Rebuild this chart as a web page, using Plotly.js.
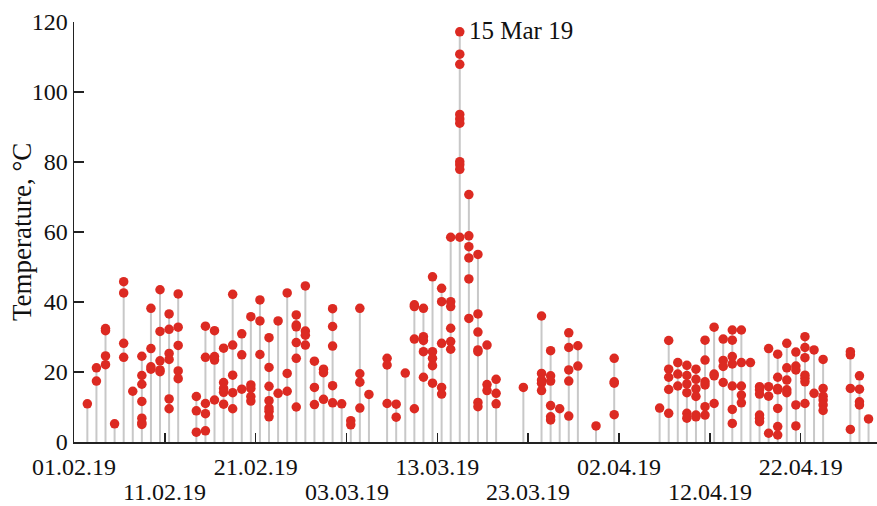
<!DOCTYPE html>
<html>
<head>
<meta charset="utf-8">
<script src="https://cdn.plot.ly/plotly-3.0.1.min.js"></script>
<style>html,body{margin:0;padding:0;background:#fff;}#chart{width:877px;height:506px;}</style>
</head>
<body>
<div id="chart"></div>
<script>
// Measurement days (one stem per day)
const days = [
  '2019-02-02','2019-02-03','2019-02-04','2019-02-05','2019-02-06','2019-02-07','2019-02-08','2019-02-09',
  '2019-02-10','2019-02-11','2019-02-12','2019-02-14','2019-02-15','2019-02-16','2019-02-17','2019-02-18',
  '2019-02-19','2019-02-20','2019-02-21','2019-02-22','2019-02-23','2019-02-24','2019-02-25','2019-02-26',
  '2019-02-27','2019-02-28','2019-03-01','2019-03-02','2019-03-03','2019-03-04','2019-03-05','2019-03-07',
  '2019-03-08','2019-03-09','2019-03-10','2019-03-11','2019-03-12','2019-03-13','2019-03-14','2019-03-15',
  '2019-03-16','2019-03-17','2019-03-18','2019-03-19','2019-03-22','2019-03-24','2019-03-25','2019-03-26',
  '2019-03-27','2019-03-28','2019-03-30','2019-04-01','2019-04-06','2019-04-07','2019-04-08','2019-04-09',
  '2019-04-10','2019-04-11','2019-04-12','2019-04-13','2019-04-14','2019-04-15','2019-04-16','2019-04-17',
  '2019-04-18','2019-04-19','2019-04-20','2019-04-21','2019-04-22','2019-04-23','2019-04-24','2019-04-27',
  '2019-04-28','2019-04-29'
];
// Temperatures (°C) recorded on each day
const temps = [
  [10.9],[21.2,17.4],[32.4,31.8,24.6,22.1],[5.2],[45.8,42.6,28.2,24.2],[14.5],
  [24.5,19.0,16.5,11.6,6.8,5.5,5.0],[38.2,26.7,21.5,20.8],
  [43.5,31.6,23.2,20.6,20.1],[36.6,32.2,25.3,23.6,12.3,9.5],[42.3,32.8,27.6,20.3,18.1],
  [13.0,8.9,2.8],[33.1,24.2,11.0,8.1,3.2],[31.8,24.4,23.4,12.0],[26.8,17.0,15.3,14.2,10.8],
  [42.2,27.7,19.1,14.1,9.5],
  [30.9,24.9,15.1],[35.8,16.3,15.3,13.0,11.7],[40.6,34.6,25.0],[29.8,21.3,15.9,11.8,9.7,8.8,7.2],
  [34.6,13.9],[42.6,19.6,14.5],[36.3,33.4,32.9,28.4,23.9,10.0],[44.6,31.7,30.5,27.7],
  [23.1,15.6,10.7],[20.8,19.8,12.2],[38.1,33.0,27.4,16.1,11.2],[10.9],[6.1,4.9],
  [38.2,19.5,17.1,9.7],[13.6],[23.9,22.0,11.0],
  [10.8,7.1],[19.7],[39.2,38.7,29.4,9.5],[38.2,30.1,29.0,25.8,18.5],[47.2,25.8,23.9,21.8,16.8],
  [43.9,40.1,28.2,15.6,13.7],[58.5,40.1,38.7,32.5,28.7,26.5],
  [117.2,110.8,107.9,93.6,92.3,91.1,80.1,79.2,77.9,58.5],
  [70.7,58.9,55.8,52.6,46.6,35.3],[53.6,36.6,31.4,26.3,25.8,11.3,10.1],[27.7,16.4,14.7],
  [17.9,13.9,10.9],[15.6],[36.0,19.6,17.7,16.8,14.7],[26.1,18.9,17.4,10.4,7.2,6.3],[9.5],
  [31.2,27.0,20.6,17.4,7.4],[27.5,21.7],[4.6],[23.9,17.2,16.8,7.8],[9.7],[29.0,20.8,18.5,15.0,8.2],
  [22.7,19.4,16.0],[21.9,19.0,16.6,14.1,8.2,6.8],
  [20.8,17.9,15.2,13.0,7.7,7.2],[29.1,23.4,17.2,16.3,10.1,7.7],[32.8,19.4,18.9,11.0],
  [29.4,23.3,21.6,17.0],[32.0,29.1,24.4,22.3,16.0,9.3,5.3],[32.0,22.7,16.0,13.4,11.2],[22.7],
  [15.8,14.9,13.7,7.7,6.8,5.8],
  [26.7,15.8,13.1,2.5],[25.1,18.5,15.3,14.9,9.6,4.4,2.0],[28.2,21.2,17.7,14.9,14.1],
  [25.7,21.7,20.6,10.6,4.6],[30.1,27.0,24.1,19.1,18.2,17.2,11.0],[26.3,13.9],
  [23.6,15.3,13.1,12.0,10.6,9.0],[25.8,24.9,15.3,3.6],
  [18.9,15.1,11.5,10.6],[6.6]
];
// X-axis ticks (every 10 days), labels staggered on two rows
const tickDates = ['2019-02-01','2019-02-11','2019-02-21','2019-03-03','2019-03-13','2019-03-23','2019-04-02','2019-04-12','2019-04-22'];
const tickLabels = ['01.02.19','11.02.19','21.02.19','03.03.19','13.03.19','23.03.19','02.04.19','12.04.19','22.04.19'];
const yTicks = [0,20,40,60,80,100,120];
const yTitle = 'Temperature, °C';
const peakLabel = '15 Mar 19';

const TIME = ' 11:15';
const FONT = 'Liberation Serif, Times New Roman, serif';
const TXT = '#111';

const stemX = [], stemY = [], ptX = [], ptY = [];
let peakX = null, peakY = -Infinity;
days.forEach((d, i) => {
  const x = d + TIME;
  const vals = temps[i];
  const mx = Math.max(...vals);
  stemX.push(x, x, null);
  stemY.push(0, mx, null);
  vals.forEach(v => {
    ptX.push(x); ptY.push(v);
    if (v > peakY) { peakY = v; peakX = x; }
  });
});

// first row: labels on the axis itself; second row: staggered labels below
const ticktext = tickLabels.map((t, i) => i % 2 === 0 ? t : '');
const annotations = [];
tickLabels.forEach((t, i) => {
  if (i % 2 === 1) {
    annotations.push({
      x: tickDates[i], xref:'x', y:0, yref:'paper', text:t, showarrow:false,
      xanchor:'center', yanchor:'top', yshift:-36, borderpad:0,
      font:{family:FONT, size:24, color:TXT}
    });
  }
});
annotations.push({
  x:0, xref:'paper', y:0.5, yref:'paper', text:yTitle, textangle:-90, showarrow:false,
  xanchor:'center', yanchor:'middle', xshift:-52,
  font:{family:FONT, size:27, color:TXT}
});
annotations.push({
  x:peakX, y:peakY, xref:'x', yref:'y', text:peakLabel, showarrow:false,
  xanchor:'left', yanchor:'middle', xshift:7, yshift:1,
  font:{family:FONT, size:25, color:TXT}
});

const data = [
  {type:'scatter', mode:'lines', x:stemX, y:stemY, line:{color:'#c8c8c8', width:2}, hoverinfo:'skip', showlegend:false},
  {type:'scatter', mode:'markers', x:ptX, y:ptY, marker:{color:'#dc2a22', size:9.5}, showlegend:false, cliponaxis:false}
];

const layout = {
  width:877, height:506,
  margin:{l:74, r:0, t:22, b:64, pad:0},
  paper_bgcolor:'#fff', plot_bgcolor:'#fff',
  showlegend:false,
  font:{family:FONT, size:24, color:TXT},
  xaxis:{
    type:'date', range:['2019-02-01 00:00','2019-04-30 09:36'],
    tickmode:'array', tickvals:tickDates, ticktext:ticktext,
    ticks:'inside', ticklen:9, tickwidth:1.5, tickcolor:'#222',
    showline:true, linecolor:'#222', linewidth:1.5,
    showgrid:false, zeroline:false,
    tickfont:{family:FONT, size:24, color:TXT},
    ticklabelstandoff:3
  },
  yaxis:{
    range:[0,120], tickmode:'array', tickvals:yTicks,
    ticks:'inside', ticklen:10, tickwidth:1.5, tickcolor:'#222',
    showline:true, linecolor:'#222', linewidth:1.5,
    showgrid:false, zeroline:false,
    tickfont:{family:FONT, size:24, color:TXT}
  },
  annotations: annotations
};

Plotly.newPlot('chart', data, layout, {displayModeBar:false, staticPlot:true});
</script>
</body>
</html>
